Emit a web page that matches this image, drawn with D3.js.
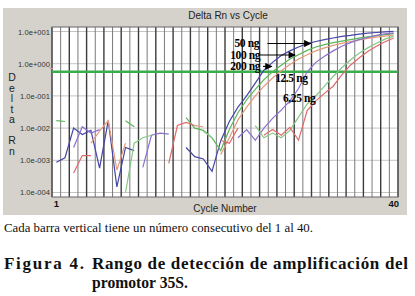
<!DOCTYPE html>
<html><head><meta charset="utf-8">
<script src="https://cdn.jsdelivr.net/npm/d3@7"></script>
<style>body{margin:0;background:#fff}svg{display:block}</style>
</head><body>
<svg id="c" width="415" height="296"></svg>
<script>
// ---- data ----
const cycles = d3.range(1, 41);
const yTickValues = [1e1, 1e0, 1e-1, 1e-2, 1e-3, 1e-4];
const yTickLabels = ["1.0e+001", "1.0e+000", "1.0e-001", "1.0e-002", "1.0e-003", "1.0e-004"];
const xTickValues = [1, 40];
const xTickLabels = ["1", "40"];
const threshold = 0.56;

const seriesNames = ["A", "B", "C", "D", "E", "F"];
const seriesColors = ["#4646a6", "#58b858", "#e49a7c", "#8c70d0", "#86c886", "#e06a6a"];
const sA = [8.7e-4,1.2e-3,1.0e-2,6.3e-3,8.5e-3,5.7e-4,1.7e-2,1.5e-4,2.5e-3,2.0e-3,null,null,null,null,null,2.5e-3,1.3e-3,1.1e-3,4.5e-4,4.0e-3,1.6e-2,4.5e-2,0.10,0.25,0.63,1.1,1.8,2.5,3.3,4.2,4.9,5.6,6.3,7.1,7.6,8.3,8.9,9.3,9.8,10.2];
const sB = [1.7e-2,1.6e-2,null,null,null,null,null,null,1.7e-2,1.1e-2,null,null,null,null,null,2.1e-2,1.0e-2,8.5e-3,5.0e-3,2.0e-3,9.0e-3,3.0e-2,7.6e-2,0.16,0.32,0.56,0.9,1.4,1.9,2.6,3.3,3.9,4.5,5.0,5.6,6.2,6.8,7.4,8.0,8.6];
const sC = [null,null,null,null,3.4e-3,8.0e-3,1.7e-2,5.0e-4,3.4e-3,null,null,null,null,null,null,null,1.2e-2,1.1e-2,null,1.5e-3,5.0e-3,1.8e-2,4.5e-2,0.10,0.20,0.36,0.6,0.95,1.4,1.9,2.5,3.1,3.7,4.3,4.9,5.5,6.1,6.7,7.2,7.8];
const sD = [null,null,2.5e-3,1.1e-2,7.0e-3,9.0e-3,null,null,null,null,6.0e-4,6.0e-3,7.0e-3,6.5e-3,null,null,null,null,null,null,null,5.0e-3,9.0e-3,4.2e-3,1.0e-2,2.0e-2,3.6e-2,7.0e-2,0.17,0.56,1.1,1.7,2.5,3.5,4.5,5.6,6.5,7.6,8.5,9.1];
const sE = [null,null,null,null,null,null,null,null,1.0e-4,3.4e-3,5.0e-3,6.0e-3,null,null,null,null,null,8.0e-3,5.0e-3,null,null,null,null,1.2e-2,5.0e-3,7.0e-3,5.0e-3,8.5e-3,2.2e-2,5.6e-2,0.1,0.2,0.4,0.75,1.3,2.1,3.1,4.3,5.8,7.2];
const sF = [null,null,4.0e-4,1.4e-3,1.4e-3,null,null,null,null,null,null,null,null,8.0e-4,1.2e-2,1.5e-2,1.2e-2,null,null,4.2e-3,3.4e-3,1.0e-2,null,null,6.0e-3,9.0e-3,6.0e-3,1.05e-2,4.2e-3,3.5e-2,7.0e-2,0.12,0.2,0.45,0.9,1.5,2.4,3.5,4.8,6.3];
const seriesValues = [sA, sB, sC, sD, sE, sF];

const annLabels = ["50 ng", "100 ng", "200 ng", "12.5 ng", "6,25 ng"];
const annCycles = [21.6, 21.1, 21.1, 26.3, 27.2];     // label start (cycle units)
const annValues = [3.3, 1.45, 0.64, 0.27, 0.067];     // label baseline value
const annArrowFrom = [25.4, 24.4, 24.9, null, null];
const annArrowTo = [30.4, 28.6, 25.9, null, null];

// ---- layout ----
const svg = d3.select("#c");
const L = 52, R = 398, T = 27, B = 197;
const x = d3.scaleLinear().domain([0.5, 40.5]).range([L, R]);
const y = d3.scaleLog().domain([Math.pow(10, -4.14), Math.pow(10, 1.14)]).range([B, T]);

svg.append("rect").attr("x", 0).attr("y", 0).attr("width", 415).attr("height", 296).attr("fill", "#fff");
svg.append("rect").attr("x", 3).attr("y", 8).attr("width", 404).attr("height", 207).attr("fill", "#d5d2cc");
svg.append("rect").attr("x", L).attr("y", T).attr("width", R - L).attr("height", B - T).attr("fill", "#fff");

// horizontal grid
svg.append("g").selectAll("line").data(yTickValues).join("line")
  .attr("x1", L).attr("x2", R).attr("y1", d => y(d)).attr("y2", d => y(d))
  .attr("stroke", "#c4c4c4").attr("stroke-width", 1);

// vertical grid (cycle boundaries)
const bounds = d3.range(0, 41).map(k => k + 0.5);
svg.append("g").selectAll("line").data(bounds).join("line")
  .attr("x1", d => x(d)).attr("x2", d => x(d)).attr("y1", T).attr("y2", B)
  .attr("stroke", (d, i) => i % 2 ? "#7a7a7a" : "#3c3c3c")
  .attr("stroke-width", (d, i) => i % 2 ? 1 : 1.4);

svg.append("rect").attr("x", L).attr("y", T).attr("width", R - L).attr("height", B - T)
  .attr("fill", "none").attr("stroke", "#666").attr("stroke-width", 1);

// threshold
svg.append("line").attr("x1", L).attr("x2", R).attr("y1", y(threshold)).attr("y2", y(threshold))
  .attr("stroke", "#3aae4a").attr("stroke-width", 2.4);
svg.append("line").attr("x1", L - 3).attr("x2", L + 1).attr("y1", y(threshold) - 4).attr("y2", y(threshold) - 3)
  .attr("stroke", "#e88aa0").attr("stroke-width", 1);

// series
svg.append("clipPath").attr("id", "clip").append("rect").attr("x", L).attr("y", T).attr("width", R - L).attr("height", B - T);
const line = d3.line().defined(d => d != null).x((d, i) => x(cycles[i])).y(d => y(d));
svg.append("g").attr("clip-path", "url(#clip)").selectAll("path").data(seriesValues).join("path")
  .attr("d", d => line(d)).attr("fill", "none")
  .attr("stroke", (d, i) => seriesColors[i]).attr("stroke-width", 1.2);

// y tick labels
svg.append("g").selectAll("text").data(yTickValues).join("text")
  .attr("x", L - 2).attr("y", d => y(d) + 3).attr("text-anchor", "end")
  .attr("font-family", "Liberation Sans, Arial, sans-serif").attr("font-size", 7.6).attr("fill", "#333")
  .text((d, i) => yTickLabels[i]);

// x tick labels
svg.append("g").selectAll("text").data(xTickValues).join("text")
  .attr("x", d => x(d)).attr("y", 207).attr("text-anchor", "middle")
  .attr("font-family", "Liberation Sans, Arial, sans-serif").attr("font-size", 9.5).attr("font-weight", "bold").attr("fill", "#111")
  .text((d, i) => xTickLabels[i]);

// titles
svg.append("text").attr("x", 228).attr("y", 19).attr("text-anchor", "middle")
  .attr("font-family", "Liberation Sans, Arial, sans-serif").attr("font-size", 10).attr("fill", "#222").text("Delta Rn vs Cycle");
svg.append("text").attr("x", 225).attr("y", 212).attr("text-anchor", "middle")
  .attr("font-family", "Liberation Sans, Arial, sans-serif").attr("font-size", 10).attr("fill", "#222").text("Cycle Number");
svg.append("text").attr("x", 12).attr("y", 71)
  .attr("writing-mode", "vertical-rl").style("text-orientation", "upright")
  .attr("letter-spacing", -1.5)
  .attr("font-family", "Liberation Sans, Arial, sans-serif").attr("font-size", 10.5).attr("fill", "#222")
  .text("Delta Rn");

// annotations
const defs = svg.append("defs");
defs.append("marker").attr("id", "ah").attr("viewBox", "0 0 10 10").attr("refX", 9).attr("refY", 5)
  .attr("markerWidth", 7).attr("markerHeight", 6).attr("orient", "auto")
  .append("path").attr("d", "M0,0 L10,5 L0,10 z").attr("fill", "#000");
const ann = svg.append("g");
annLabels.forEach((t, i) => {
  ann.append("text").attr("x", x(annCycles[i])).attr("y", y(annValues[i]))
    .attr("font-family", "Liberation Serif, Times New Roman, serif").attr("font-weight", "bold")
    .attr("font-size", 11.5).attr("letter-spacing", -0.4).attr("fill", "#000").text(t);
  if (annArrowFrom[i] != null) {
    const yy = y(annValues[i]) - 3.5;
    ann.append("line").attr("x1", x(annArrowFrom[i])).attr("x2", x(annArrowTo[i]))
      .attr("y1", yy).attr("y2", yy).attr("stroke", "#000").attr("stroke-width", 1.2)
      .attr("marker-end", "url(#ah)");
  }
});

// caption
svg.append("text").attr("x", 4).attr("y", 232).attr("textLength", 309).attr("lengthAdjust", "spacingAndGlyphs")
  .attr("font-family", "Liberation Serif, Times New Roman, serif").attr("font-size", 12.5).attr("fill", "#111")
  .text("Cada barra vertical tiene un número consecutivo del 1 al 40.");
svg.append("text").attr("x", 4).attr("y", 269).attr("textLength", 80).attr("lengthAdjust", "spacing")
  .attr("font-family", "Liberation Serif, Times New Roman, serif").attr("font-size", 17).attr("font-weight", "bold").attr("fill", "#111")
  .text("Figura 4.");
svg.append("text").attr("x", 92).attr("y", 269).attr("textLength", 316).attr("lengthAdjust", "spacing")
  .attr("font-family", "Liberation Serif, Times New Roman, serif").attr("font-size", 17).attr("font-weight", "bold").attr("fill", "#111")
  .text("Rango de detección de amplificación del");
svg.append("text").attr("x", 92).attr("y", 288).attr("textLength", 96).attr("lengthAdjust", "spacingAndGlyphs")
  .attr("font-family", "Liberation Serif, Times New Roman, serif").attr("font-size", 17).attr("font-weight", "bold").attr("fill", "#111")
  .text("promotor 35S.");
</script>
</body></html>
